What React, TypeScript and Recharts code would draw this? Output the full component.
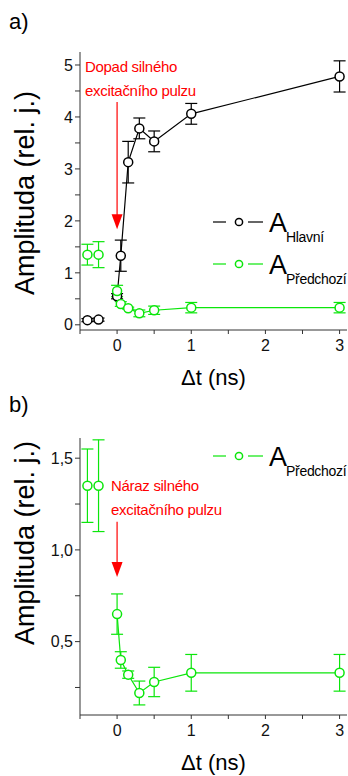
import { ComposedChart, Line, XAxis, YAxis, ErrorBar, ReferenceLine, Legend, Label } from 'recharts';

// times (ns) before and after the strong excitation pulse
const preTimes = [-0.4, -0.25];
const postTimes = [0, 0.05, 0.15, 0.3, 0.5, 1, 3];

// A_Hlavní
const hlavniPre = [0.09, 0.1];
const hlavniPreErr = [0.03, 0.03];
const hlavni = [0.55, 1.33, 3.13, 3.78, 3.53, 4.06, 4.78];
const hlavniErr = [0.05, 0.3, 0.4, 0.2, 0.2, 0.2, 0.3];

// A_Předchozí
const predchoziPre = [1.35, 1.35];
const predchoziPreErr = [0.2, 0.25];
const predchozi = [0.65, 0.4, 0.32, 0.22, 0.28, 0.33, 0.33];
const predchoziErr = [0.11, 0.045, 0.02, 0.065, 0.08, 0.1, 0.1];

const xTicks = [-0.5, 0, 0.5, 1, 1.5, 2, 2.5, 3];
const yTicksA = [0, 0.5, 1, 1.5, 2, 2.5, 3, 3.5, 4, 4.5, 5];
const yTicksB = [0.25, 0.5, 0.75, 1, 1.25, 1.5];

// red arrow (start, tip) in data units at t = 0
const arrowA = [4.29, 1.84];
const arrowB = [1.154, 0.852];

const BLACK = '#000000';
const GREEN = '#0be60b';
const RED = '#ff0000';
const AXIS = '#333333';
const FONT = '"Liberation Sans", Arial, sans-serif';

const rows = (t: number[], v: number[], e: number[]) => t.map((x, i) => ({ t: x, v: v[i], e: e[i] }));

const tickStyle = { fontSize: 16, fill: '#111', fontFamily: FONT };

const fmtX = (v: number) => (Number.isInteger(v) ? String(v) : '');
const fmtA = (v: number) => (Number.isInteger(v) ? String(v) : '');
const fmtB = (v: number) => (Math.abs(v * 2 - Math.round(v * 2)) < 1e-9 ? v.toFixed(1).replace('.', ',') : '');

const yTitle = (frac: number) => (props: any) => {
  const vb = props.viewBox;
  const x = 25;
  const y = vb.y + vb.height * frac;
  return (
    <text x={x} y={y} transform={`rotate(-90, ${x}, ${y})`} textAnchor="middle" dominantBaseline="central"
      style={{ fontSize: 27, fontFamily: FONT, fill: '#000' }}>
      Amplituda (rel. j.)
    </text>
  );
};

const Arrow = (props: any) => {
  const { x1, y1, x2, y2 } = props;
  const head = 15;
  return (
    <g>
      <line x1={x1} y1={y1} x2={x2} y2={y2 - head + 2} stroke={RED} strokeWidth={1.2} />
      <polygon points={`${x2 - 5.5},${y2 - head} ${x2 + 5.5},${y2 - head} ${x2},${y2}`} fill={RED} />
    </g>
  );
};

const LegendRows = (props: any) => {
  const items = (props.payload || []).filter((p: any) => p.type !== 'none');
  return (
    <div style={{ position: 'relative' }}>
      {items.map((p: any) => (
        <div key={p.value} style={{ position: 'relative', height: 42 }}>
          <svg width={52} height={14} style={{ position: 'absolute', left: 0, top: 10 }}>
            <line x1={0} y1={7} x2={13} y2={7} stroke={p.color} strokeWidth={1.2} />
            <circle cx={26} cy={7} r={3.6} fill="#fff" stroke={p.color} strokeWidth={1.5} />
            <line x1={35} y1={7} x2={50} y2={7} stroke={p.color} strokeWidth={1.2} />
          </svg>
          <span style={{ position: 'absolute', left: 56, top: 4.5, fontSize: 27, lineHeight: '27px', fontFamily: FONT, color: '#000' }}>A</span>
          <span style={{ position: 'absolute', left: 73, top: 25, fontSize: 14, lineHeight: '14px', fontFamily: FONT, color: '#000', letterSpacing: -0.3, whiteSpace: 'nowrap' }}>{p.value}</span>
        </div>
      ))}
    </div>
  );
};

type Series = { name: string; data: { t: number; v: number; e: number }[]; color: string; connect: boolean };

function Panel(props: {
  top: number; height: number; yDomain: [number, number]; yTicks: number[]; yFmt: (v: number) => string;
  series: Series[]; arrow: number[]; legendTop: number; titleFrac: number;
}) {
  const { top, height, yDomain, yTicks, yFmt, series, arrow, legendTop, titleFrac } = props;
  return (
    <div style={{ position: 'absolute', left: 0, top }}>
      <ComposedChart width={348} height={height} margin={{ top: 52, right: 1, bottom: 0, left: 0 }}>
        <XAxis xAxisId={0} type="number" dataKey="t" domain={[-0.5, 3.1]} ticks={xTicks} interval={0} allowDataOverflow
          height={70} tickSize={4} tickMargin={6} tickFormatter={fmtX} tick={tickStyle} stroke={AXIS}>
          <Label value="Δt (ns)" position="insideBottom" offset={15} style={{ fontSize: 22, fill: '#000', fontFamily: FONT }} />
        </XAxis>
        <XAxis xAxisId="top" orientation="top" type="number" dataKey="t" domain={[-0.5, 3.1]} ticks={xTicks} interval={0}
          allowDataOverflow height={0} mirror tickSize={3} tickFormatter={() => ''} stroke={AXIS} />
        <YAxis yAxisId={0} type="number" domain={yDomain} ticks={yTicks} interval={0} allowDataOverflow width={80}
          tickSize={5} tickMargin={2} tickFormatter={yFmt} tick={tickStyle} stroke={AXIS}>
          <Label content={yTitle(titleFrac)} />
        </YAxis>
        <YAxis yAxisId="r" orientation="right" type="number" domain={yDomain} allowDataOverflow width={0}
          tick={false} tickLine={false} stroke={AXIS} />
        {series.map((s) => (
          <Line key={s.name} name={s.name} data={s.data} dataKey="v" type="linear" isAnimationActive={false}
            stroke={s.connect ? s.color : 'none'} strokeWidth={1.2} legendType={s.connect ? 'line' : 'none'}
            dot={{ r: 4.5, stroke: s.color, strokeWidth: 1.5, fill: '#fff' }} activeDot={false}>
            <ErrorBar dataKey="e" direction="y" width={6} stroke={s.color} strokeWidth={1.2} />
          </Line>
        ))}
        <ReferenceLine segment={[{ x: 0, y: arrow[0] }, { x: 0, y: arrow[1] }]} shape={Arrow} />
        <Legend layout="horizontal" verticalAlign="middle" align="center" content={LegendRows}
          wrapperStyle={{ left: 213, top: legendTop, width: 140 }} />
      </ComposedChart>
    </div>
  );
}

const noteStyle = {
  position: 'absolute' as const, color: RED, fontFamily: FONT, fontSize: 15, lineHeight: '24px',
  letterSpacing: -0.3, whiteSpace: 'nowrap' as const,
};
const panelLetter = { position: 'absolute' as const, left: 9, fontSize: 22, lineHeight: '22px', fontFamily: FONT, color: '#000' };

export default function App() {
  const seriesA: Series[] = [
    { name: 'Hlavní pre', data: rows(preTimes, hlavniPre, hlavniPreErr), color: BLACK, connect: false },
    { name: 'Hlavní', data: rows(postTimes, hlavni, hlavniErr), color: BLACK, connect: true },
    { name: 'Předchozí pre', data: rows(preTimes, predchoziPre, predchoziPreErr), color: GREEN, connect: false },
    { name: 'Předchozí', data: rows(postTimes, predchozi, predchoziErr), color: GREEN, connect: true },
  ];
  const seriesB: Series[] = seriesA.slice(2);
  return (
    <div style={{ position: 'absolute', left: 0, top: 0, width: 348, height: 776, background: '#fff' }}>
      <Panel top={0} height={400} yDomain={[-0.1, 5.25]} yTicks={yTicksA} yFmt={fmtA} series={seriesA}
        arrow={arrowA} legendTop={205} titleFrac={0.507} />
      <Panel top={386} height={399} yDomain={[0.1, 1.61]} yTicks={yTicksB} yFmt={fmtB} series={seriesB}
        arrow={arrowB} legendTop={53} titleFrac={0.379} />
      <div style={{ ...panelLetter, top: 11 }}>a)</div>
      <div style={{ ...panelLetter, top: 394 }}>b)</div>
      <div style={{ ...noteStyle, left: 85, top: 55 }}>Dopad silného<br />excitačního pulzu</div>
      <div style={{ ...noteStyle, left: 111, top: 474 }}>Náraz silného<br />excitačního pulzu</div>
    </div>
  );
}
